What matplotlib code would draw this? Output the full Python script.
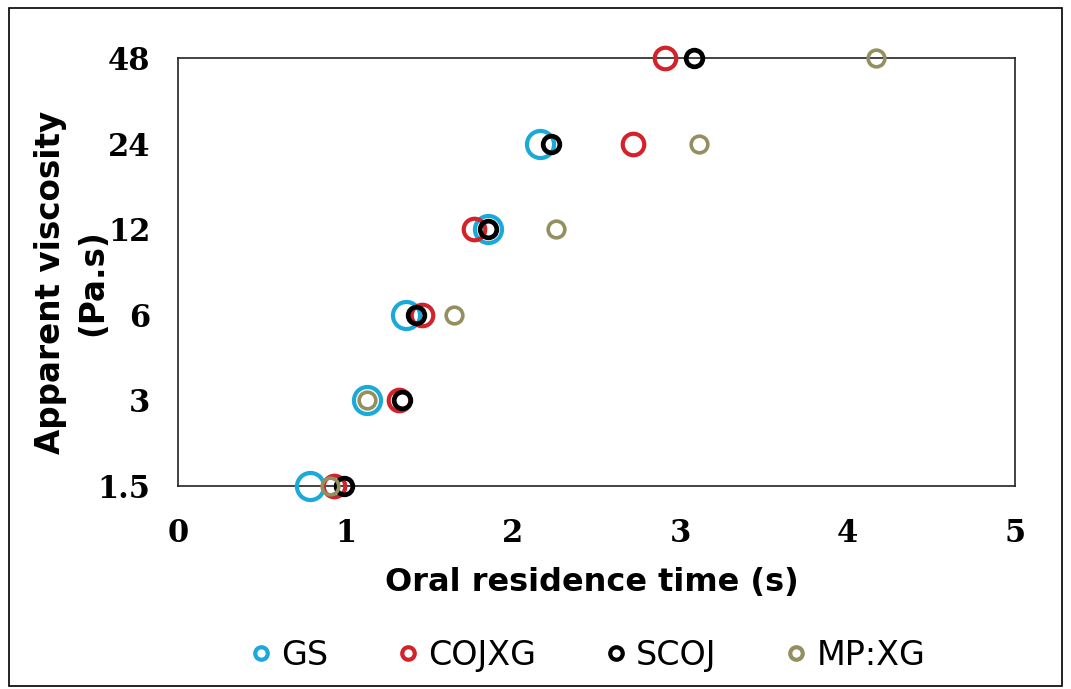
import matplotlib
matplotlib.use("Agg")
import matplotlib.pyplot as plt
from matplotlib.lines import Line2D
from matplotlib.patches import Rectangle

# Data ###########################################################
viscosity_ticks = [1.5, 3, 6, 12, 24, 48]
tick_labels = ['1.5', '3', '6', '12', '24', '48']

gs_visc = [1.5, 3, 6, 12, 24]
gs_time = [0.79, 1.13, 1.36, 1.85, 2.16]

cojxg_visc = [1.5, 3, 6, 12, 24, 48]
cojxg_time = [0.93, 1.32, 1.46, 1.77, 2.72, 2.91]

scoj_visc = [1.5, 3, 6, 12, 24, 48]
scoj_time = [0.99, 1.34, 1.42, 1.85, 2.23, 3.08]

mpxg_visc = [1.5, 3, 6, 12, 24, 48]
mpxg_time = [0.91, 1.13, 1.65, 2.26, 3.11, 4.17]

# Styles
series = [
    ('GS', gs_time, gs_visc, '#1BA9D9', 19.5, 3.0),
    ('COJXG', cojxg_time, cojxg_visc, '#D2232A', 15.5, 3.0),
    ('SCOJ', scoj_time, scoj_visc, '#000000', 12, 3.4),
    ('MP:XG', mpxg_time, mpxg_visc, '#948F5F', 12, 2.6),
]

fig = plt.figure(figsize=(10.71, 6.89), dpi=100)
ax = fig.add_axes([0.1662, 0.2946, 0.7815, 0.6212])

for name, t, v, col, ms, mew in series:
    ax.plot(t, v, linestyle='none', marker='o', markersize=ms,
            markerfacecolor='none', markeredgecolor=col, markeredgewidth=mew,
            clip_on=False, zorder=3)

ax.set_yscale('log', base=2)
ax.set_ylim(1.5, 48)
ax.set_yticks(viscosity_ticks)
ax.set_yticklabels(tick_labels)
ax.minorticks_off()
ax.set_xlim(0, 5)
ax.set_xticks(range(6))
ax.tick_params(axis='y', length=0, pad=20)
ax.tick_params(axis='x', length=0, pad=23)

tick_font = matplotlib.font_manager.FontProperties(family='DejaVu Serif', weight='bold', size=22)
for lab in ax.get_xticklabels() + ax.get_yticklabels():
    lab.set_fontproperties(tick_font)

for sp in ax.spines.values():
    sp.set_linewidth(1.2)
    sp.set_color('#222222')

fig.text(0.553, 0.155, 'Oral residence time (s)', fontsize=23, fontweight='bold',
         ha='center', va='center')
fig.text(0.067, 0.59, 'Apparent viscosity\n(Pa.s)', fontsize=23.5, fontweight='bold',
         ha='center', va='center', rotation=90, multialignment='center', linespacing=1.35)

handles = [Line2D([], [], linestyle='none', marker='o', markersize=9,
                  markerfacecolor='none', markeredgecolor=col, markeredgewidth=3,
                  label=name) for name, t, v, col, ms, mew in series]
fig.legend(handles=handles, loc='center', bbox_to_anchor=(0.546, 0.049), ncol=4,
           frameon=False, fontsize=24, handletextpad=0.1, columnspacing=1.9,
           handlelength=1.0)

# outer border around the figure
fig.patches.append(Rectangle((0.008, 0.004), 0.984, 0.984, transform=fig.transFigure,
                             fill=False, edgecolor='black', linewidth=1.2))

fig.savefig('out.png', dpi=100)
